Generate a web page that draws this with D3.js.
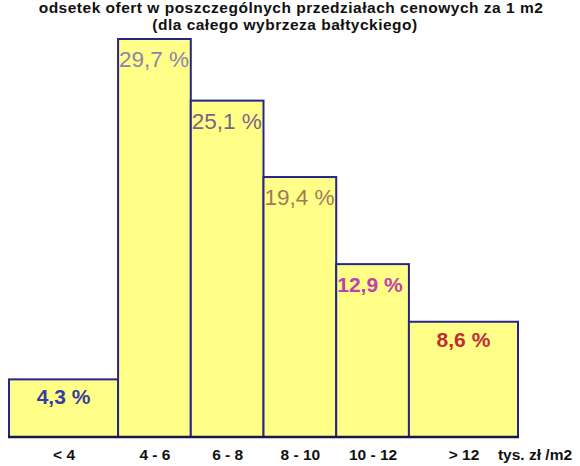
<!DOCTYPE html>
<html><head><meta charset="utf-8">
<script src="https://cdn.jsdelivr.net/npm/d3@7/dist/d3.min.js"></script>
<style>body{margin:0;background:#fff}svg{display:block}</style>
</head><body>
<svg id="c" width="580" height="466"></svg>
<script>
const categories = ["< 4", "4 - 6", "6 - 8", "8 - 10", "10 - 12", "> 12"];
const binStart = [1, 4, 6, 8, 10, 12];
const binEnd   = [4, 6, 8, 10, 12, 15];
const values = [4.3, 29.7, 25.1, 19.4, 12.9, 8.6];
const valueLabels = ["4,3 %", "29,7 %", "25,1 %", "19,4 %", "12,9 %", "8,6 %"];
const labelColors = ["#3a3ca0", "#8c84aa", "#7a6484", "#a07a58", "#c040a8", "#c02c34"];
const labelAlign = ["middle", "start", "start", "start", "start", "middle"];
const labelBold = [true, false, false, false, true, true];
const unitLabel = "tys. zł /m2";
const title1 = "odsetek ofert w poszczególnych przedziałach cenowych za 1 m2";
const title2 = "(dla całego wybrzeza bałtyckiego)";

const FONT = "Liberation Sans, Arial, sans-serif";
const svg = d3.select("#c");
const x = d3.scaleLinear().domain([1, 15]).range([9, 518]);
const y = d3.scaleLinear().domain([0, 29.7]).range([437, 39]);

const data = categories.map((c, i) => ({c, s: binStart[i], e: binEnd[i], v: values[i], l: valueLabels[i], col: labelColors[i], a: labelAlign[i], b: labelBold[i]}));

svg.selectAll("rect.bar").data(data).join("rect")
  .attr("class", "bar")
  .attr("x", d => x(d.s)).attr("width", d => x(d.e) - x(d.s))
  .attr("y", d => y(d.v)).attr("height", d => y(0) - y(d.v))
  .attr("fill", "#ffff88").attr("stroke", "#26268a").attr("stroke-width", 2);

svg.append("line").attr("x1", x(1) - 1).attr("x2", x(15) + 1)
  .attr("y1", y(0)).attr("y2", y(0)).attr("stroke", "#1a1a40").attr("stroke-width", 2.5);

svg.selectAll("text.val").data(data).join("text")
  .attr("class", "val")
  .attr("x", d => d.a === "middle" ? (x(d.s) + x(d.e)) / 2 : x(d.s) + 1)
  .attr("y", d => y(d.v) + (d.a === "middle" ? 25 : 28))
  .attr("text-anchor", d => d.a)
  .attr("font-family", FONT)
  .attr("font-size", d => d.b ? 21 : 22.5)
  .attr("font-weight", d => d.b ? "bold" : "normal")
  .attr("fill", d => d.col)
  .text(d => d.l);

const xAxis = d3.axisBottom(x)
  .tickValues(data.map(d => (d.s + d.e) / 2))
  .tickFormat((t, i) => categories[i])
  .tickSize(0).tickPadding(0);
const gx = svg.append("g").attr("transform", `translate(0,${y(0)})`).call(xAxis);
gx.select(".domain").remove();
gx.selectAll("text")
  .attr("y", 23).attr("dy", null)
  .attr("font-family", FONT)
  .attr("font-size", 15.5).attr("font-weight", "bold").attr("fill", "#111");

svg.append("text").attr("x", 535).attr("y", y(0) + 23)
  .attr("text-anchor", "middle")
  .attr("font-family", FONT)
  .attr("font-size", 15.5).attr("font-weight", "bold").attr("fill", "#111")
  .text(unitLabel);

svg.append("text").attr("x", 291).attr("y", 13).attr("text-anchor", "middle")
  .attr("font-family", FONT).attr("letter-spacing", 0.5)
  .attr("font-size", 15.5).attr("font-weight", "bold").attr("fill", "#111")
  .text(title1);
svg.append("text").attr("x", 285).attr("y", 30).attr("text-anchor", "middle")
  .attr("font-family", FONT).attr("letter-spacing", 0.5)
  .attr("font-size", 15.5).attr("font-weight", "bold").attr("fill", "#111")
  .text(title2);
</script>
</body></html>
